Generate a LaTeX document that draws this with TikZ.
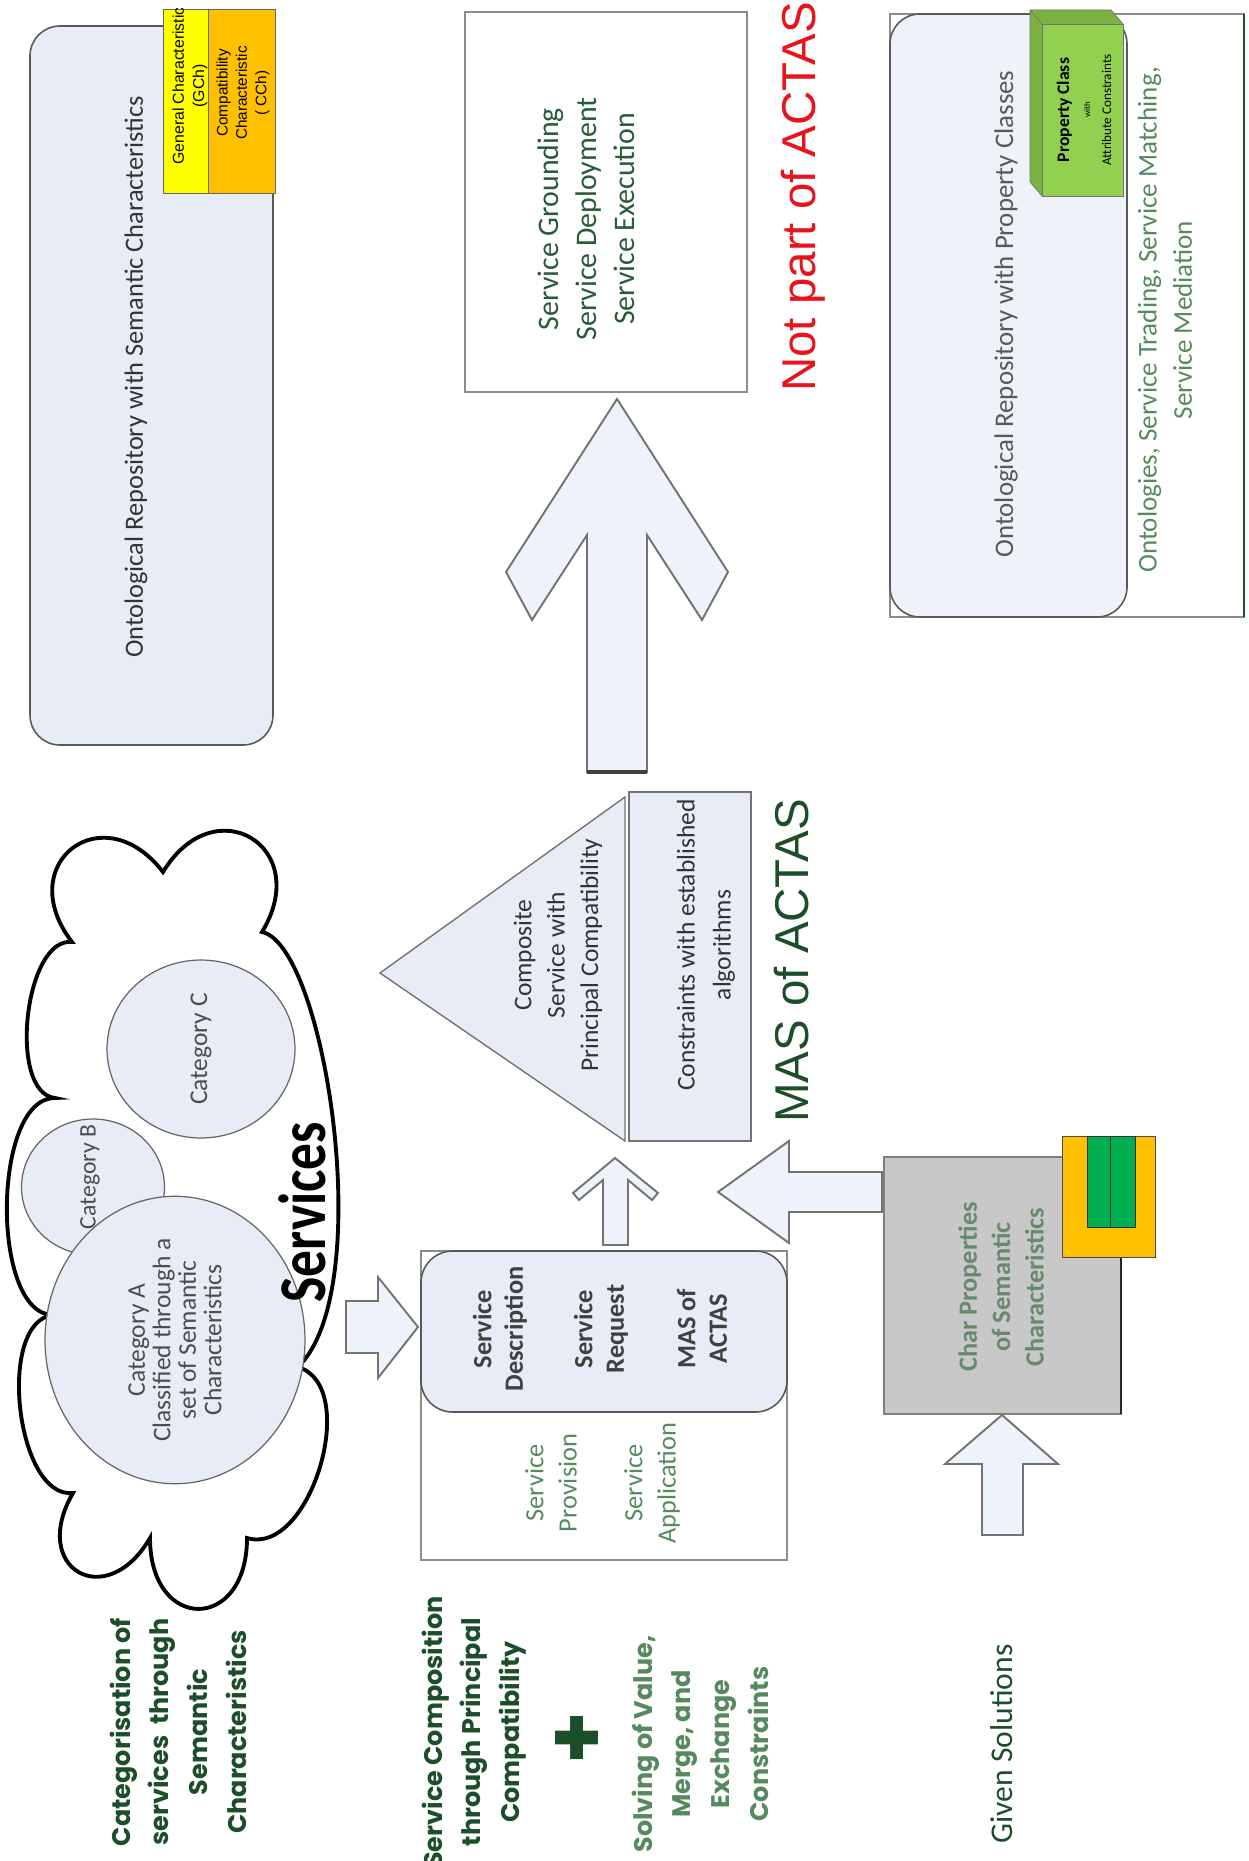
\documentclass[tikz,border=0pt]{standalone}
\usepackage{fontspec}
\setmainfont{Carlito}
\newfontfamily\arialfont{Liberation Sans}
\newfontfamily\capfont{Poppins}
\usepackage{graphicx}
\usetikzlibrary{shapes.geometric}

\definecolor{boxblue}{RGB}{232,236,246}
\definecolor{arrowblue}{RGB}{238,242,251}
\definecolor{darkgreen}{RGB}{28,78,42}
\definecolor{textgreen}{RGB}{40,92,56}
\definecolor{softgreen}{RGB}{86,138,94}
\definecolor{mutedgreen}{RGB}{104,138,108}
\definecolor{actasred}{RGB}{232,20,28}
\definecolor{gchyellow}{RGB}{255,255,0}
\definecolor{cchorange}{RGB}{255,192,0}
\definecolor{propgreen}{RGB}{146,208,80}
\definecolor{charbox}{RGB}{200,200,200}
\definecolor{barsgreen}{RGB}{0,176,80}

\begin{document}
\begin{tikzpicture}[
    x=0.02cm, y=-0.02cm, % one unit per pixel, y pointing down
    line join=miter,
    % text turned to read upwards
    sideText/.style={rotate=90, inner sep=0pt, align=center},
    repoBox/.style={draw=black!65, fill=boxblue, rounded corners=17pt, line width=0.9pt},
    plainBox/.style={draw=black!45, fill=white, line width=0.8pt},
    blockArrow/.style={draw=black!55, fill=arrowblue, line width=1.1pt},
    puff/.style={bend left=90, looseness=#1}, % one bump of the cloud
    catEllipse/.style={
        ellipse,
        rotate=90,
        draw=black!60,
        fill=boxblue,
        line width=0.7pt,
        inner sep=0pt,
        align=center,
        text=black!70,
        font=\fontsize{14.5}{14.5}\selectfont
    },
    bigLabel/.style={sideText, anchor=base west, font=\arialfont\fontsize{27}{30}\selectfont},
    captionText/.style={sideText, font=\capfont\bfseries\fontsize{14.5}{22}\selectfont}
]
    \useasboundingbox (0,0) rectangle (1248,1861);

    % Repository with semantic characteristics
    \draw[repoBox] (30,26) rectangle (273,745);
    \node[sideText, font=\fontsize{15}{17}\selectfont, text=black!80] (repoSC) at (136,377)
        {Ontological Repository with Semantic Characteristics};
    \draw[fill=gchyellow, draw=black!60] (163,9) rectangle (208,193);
    \draw[fill=cchorange, draw=black!60] (208,9) rectangle (275,193);
    \begin{scope}
        \clip (163,9) rectangle (208,193);
        \node[sideText, font=\arialfont\fontsize{9}{11.5}\selectfont] (gch) at (190,86)
            {General Characteristic\\(GCh)};
    \end{scope}
    \node[sideText, font=\arialfont\fontsize{8.7}{11}\selectfont] (cch) at (243,93)
        {Compatibility\\Characteristic\\( CCh)};

    % Steps after composition
    \draw[plainBox] (465,12) rectangle (747,392);
    \node[sideText, font=\fontsize{17}{21.5}\selectfont, text=textgreen] (grounding) at (586,219)
        {Service Grounding\\Service Deployment\\Service Execution};
    \node[bigLabel, text=actasred] (notPart) at (815,392) {Not part of ACTAS};
    \draw[blockArrow] (617,399) -- (728,572) -- (702,620) -- (647,535) -- (647,772)
        -- (587,772) -- (587,535) -- (532,620) -- (506,572) -- cycle;
    \draw[line width=2.5pt, black!75] (587,772) -- (647,772);

    % Repository with property classes
    \draw[draw=black!45, line width=0.8pt] (890,14) rectangle (1244,617);
    \draw[darkgreen, line width=1.5pt] (1244,14) -- (1244,617);
    \draw[repoBox, fill=boxblue!70!white] (890,14) rectangle (1127,617);
    \node[sideText, font=\fontsize{15.3}{17}\selectfont, text=black!65] (repoPC) at (1006,314)
        {Ontological Repository with Property Classes};
    \node[sideText, font=\fontsize{15.4}{20}\selectfont, text=softgreen] (ontoServ) at (1165,320)
        {Ontologies, Service Trading, Service Matching,\\Service Mediation};
    \draw[fill=propgreen!85!black, draw=black!55] (1030,10) -- (1111,10) -- (1123,24)
        -- (1123,196) -- (1042,196) -- (1030,182) -- cycle;
    \draw[fill=propgreen, draw=black!55] (1042,24) rectangle (1123,196);
    \draw[black!55] (1030,10) -- (1042,24);
    \node[sideText] (propClass) at (1084,110)
        {{\bfseries\fontsize{10}{12.5}\selectfont Property Class}\\
         {\fontsize{5}{12.5}\selectfont with}\\
         {\fontsize{7.5}{12.5}\selectfont Attribute Constraints}};

    % Services cloud
    \draw[line width=2.2pt, fill=white] (163,872)
        to[puff=2.2] (262,932)
        .. controls (325,945) and (378,1290) .. (298,1367)
        to[puff=0.95] (247,1538)
        to[puff=2.5] (150,1538)
        to[puff=2.5] (73,1493)
        to[puff=0.82] (53,1315)
        to[puff=0.74] (55,1098)
        to[puff=0.78] (72,942)
        to[puff=2.2] cycle;
    \node[catEllipse, minimum width=3.56cm, minimum height=3.76cm] (catC) at (201,1049) {Category C};
    \node[catEllipse, minimum width=2.72cm, minimum height=2.86cm] (catB) at (93,1187) {};
    \node[sideText, text=black!70, font=\fontsize{13.5}{14}\selectfont] (catBText) at (90,1177) {Category B};
    \node[catEllipse, minimum width=4.9cm, minimum height=5.2cm] (catA) at (175,1340)
        {Category A\\Classified through a\\set of Semantic\\Characteristics};
    \node[sideText, font=\bfseries\fontsize{38}{40}\selectfont] (servLabel) at (302,1212)
        {\scalebox{0.8}[1]{Services}};

    % Cloud to composition
    \draw[blockArrow] (346,1301) -- (378,1301) -- (378,1277) -- (418,1327)
        -- (378,1378) -- (378,1353) -- (346,1353) -- cycle;

    % Composition box
    \draw[plainBox] (421,1251) rectangle (787,1560);
    \draw[repoBox, rounded corners=18pt] (421,1251) rectangle (787,1412);
    \node[sideText, font=\bfseries\fontsize{15}{18}\selectfont, text=black!75] (servDesc) at (500,1329)
        {Service\\Description};
    \node[sideText, font=\bfseries\fontsize{15}{18}\selectfont, text=black!75] (servReq) at (601,1329)
        {Service\\Request};
    \node[sideText, font=\bfseries\fontsize{15}{18}\selectfont, text=black!75] (servMas) at (702,1329)
        {MAS of\\ACTAS};
    \node[sideText, font=\fontsize{15}{19}\selectfont, text=softgreen] (servProv) at (551,1483)
        {Service\\Provision};
    \node[sideText, font=\fontsize{15}{19}\selectfont, text=softgreen] (servApp) at (652,1483)
        {Service\\Application};

    % Composition to composite service
    \draw[blockArrow] (615,1158) -- (658,1193) -- (652,1200) -- (628,1180) -- (628,1245)
        -- (603,1245) -- (603,1180) -- (579,1200) -- (573,1193) -- cycle;

    % Composite service and constraints
    \draw[fill=boxblue, draw=black!55, line width=0.8pt] (380,973) -- (625,797) -- (625,1141) -- cycle;
    \node[sideText, font=\fontsize{14.5}{19}\selectfont, text=black!80] (compServ) at (558,955)
        {Composite\\Service with\\Principal Compatibility};
    \draw[fill=boxblue, draw=black!55, line width=0.8pt] (629,792) rectangle (751,1141);
    \node[sideText, font=\fontsize{14.5}{20.5}\selectfont, text=black!80] (constr) at (706,945)
        {Constraints with established\\algorithms};
    \node[bigLabel, text=darkgreen] (masLabel) at (808,1123) {MAS of ACTAS};

    % Given solutions
    \draw[blockArrow] (718,1192) -- (789,1141) -- (789,1172) -- (882,1172)
        -- (882,1212) -- (789,1212) -- (789,1243) -- cycle;
    \draw[fill=charbox, draw=black!50, line width=0.8pt] (884,1157) rectangle (1121,1414);
    \draw[black!85, line width=1pt] (1121,1257) -- (1121,1414);
    \node[sideText, font=\bfseries\fontsize{15}{19}\selectfont, text=mutedgreen] (charProps) at (1001,1287)
        {Char Properties\\of Semantic\\Characteristics};
    \draw[fill=cchorange, draw=black!70] (1062,1136) rectangle (1155,1257);
    \draw[fill=barsgreen, draw=black!80] (1087,1136) rectangle (1110,1227);
    \draw[fill=barsgreen, draw=black!80] (1110,1136) rectangle (1135,1227);
    \draw[blockArrow] (1002,1415) -- (1058,1464) -- (1023,1464) -- (1023,1535)
        -- (982,1535) -- (982,1464) -- (945,1464) -- cycle;

    % Captions
    \node[captionText, text=darkgreen] (catCaption) at (178,1732)
        {Categorisation of\\services\ \ through\\Semantic\\Characteristics};
    \node[captionText, text=darkgreen] (compCaption) at (474,1732)
        {Service Composition\\through Principal\\Compatibility};
    \node[sideText, font=\capfont\bfseries\fontsize{48}{48}\selectfont, text=darkgreen] (plusSign) at (581,1738) {+};
    \node[captionText, text=softgreen] (solveCaption) at (700,1744)
        {Solving of Value,\\Merge, and\\Exchange\\Constraints};
    \node[sideText, font=\fontsize{18}{22}\selectfont, text=darkgreen] (givenSol) at (1002,1744)
        {Given Solutions};

\end{tikzpicture}
\end{document}
